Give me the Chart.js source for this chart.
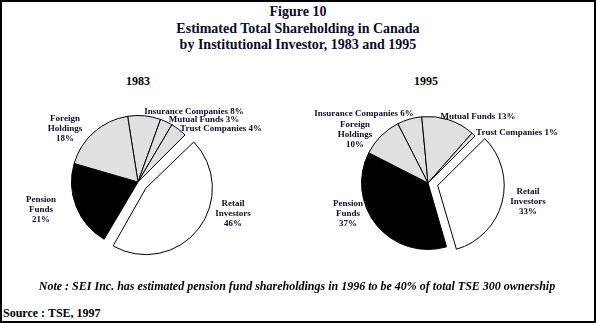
<!DOCTYPE html>
<html>
<head>
<meta charset="utf-8">
<script src="https://cdn.jsdelivr.net/npm/chart.js@4.4.1/dist/chart.umd.min.js"></script>
<style>
  html, body { margin: 0; padding: 0; background: #fff; }
  #fig { position: relative; width: 596px; height: 323px; overflow: hidden; font-family: "Liberation Serif", "Times New Roman", serif; color: #000; }
  #frame { position: absolute; left: 0; top: 0; width: 592px; height: 319px; border: 2px solid #000; }
  .t { position: absolute; white-space: nowrap; font-weight: bold; line-height: 1; transform: translate(-50%, -50%); }
  .title { font-size: 14px; left: 298px; color: #0b0b2a; }
  .year { font-size: 12px; }
  canvas { position: absolute; }
</style>
</head>
<body>
<div id="fig">
  <div id="frame"></div>
  <div class="t title" style="top:12px">Figure 10</div>
  <div class="t title" style="top:29px">Estimated Total Shareholding in Canada</div>
  <div class="t title" style="top:45px">by Institutional Investor, 1983 and 1995</div>
  <div class="t year" style="left:138px; top:81px">1983</div>
  <div class="t year" style="left:426px; top:81px">1995</div>
  <canvas id="pie1983" width="298" height="190" style="left:0; top:90px"></canvas>
  <canvas id="pie1995" width="298" height="190" style="left:298px; top:90px"></canvas>
  <div class="t" style="left:297px; top:286px; font-size:12px; font-style:italic">Note : SEI Inc. has estimated pension fund shareholdings in 1996 to be 40% of total TSE 300 ownership</div>
  <div class="t" style="left:3px; top:313px; font-size:12px; transform: translate(0, -50%)">Source : TSE, 1997</div>
</div>
<script>
// categories in clockwise order from the first slice
const categories = ['Insurance Companies', 'Mutual Funds', 'Trust Companies', 'Retail Investors', 'Pension Funds', 'Foreign Holdings'];
const share1983 = [8, 3, 4, 46, 21, 18];
const share1995 = [6, 13, 1, 33, 37, 10];
const sliceColors = ['#e0e0e0', '#e0e0e0', '#e0e0e0', '#ffffff', '#000000', '#e0e0e0'];
const sliceOffsets = [0, 0, 0, 40, 0, 0];

// label placement relative to pie centre (px); wrap = one word per line
const labels1983 = [
  { dx: 56, dy: -70, wrap: false },
  { dx: 66, dy: -62, wrap: false },
  { dx: 83, dy: -53, wrap: false },
  { dx: 95, dy: 22, wrap: true },
  { dx: -97, dy: 18, wrap: true },
  { dx: -73, dy: -63, wrap: true }
];
const labels1995 = [
  { dx: -64, dy: -69, wrap: false },
  { dx: 50, dy: -66, wrap: false },
  { dx: 89, dy: -50, wrap: false },
  { dx: 100, dy: 9, wrap: true },
  { dx: -80, dy: 21, wrap: true },
  { dx: -73, dy: -58, wrap: true }
];

// Chart.js grows an offset arc's radius; keep the exploded slice the same size as the rest
const explodeFix = {
  id: 'explodeFix',
  beforeDatasetDraw(chart) {
    chart.getDatasetMeta(0).data.forEach(arc => {
      const off = (arc.options.offset || 0) / 4;
      if (!off) return;
      const fix = 1 - Math.sin(Math.min(Math.PI, arc.circumference));
      arc._origR = arc.outerRadius;
      arc.outerRadius -= off * fix;
    });
  },
  afterDatasetDraw(chart) {
    chart.getDatasetMeta(0).data.forEach(arc => {
      if (arc._origR !== undefined) {
        arc.outerRadius = arc._origR;
        delete arc._origR;
      }
    });
  }
};

const pieLabelPlugin = {
  id: 'pieLabels',
  afterDatasetsDraw(chart, args, opts) {
    const ctx = chart.ctx;
    const meta = chart.getDatasetMeta(0);
    const values = chart.data.datasets[0].data;
    ctx.save();
    ctx.font = 'bold 9px "Liberation Serif", serif';
    ctx.fillStyle = '#0b0b2a';
    ctx.textAlign = 'center';
    ctx.textBaseline = 'middle';
    meta.data.forEach((arc, i) => {
      const lay = opts.layout[i];
      const name = chart.data.labels[i];
      const lines = lay.wrap ? name.split(' ').concat([values[i] + '%']) : [name + ' ' + values[i] + '%'];
      lines.forEach((line, j) => {
        ctx.fillText(line, arc.x + lay.dx, arc.y + lay.dy + j * 10);
      });
    });
    ctx.restore();
  }
};

function makePie(id, values, rotation, padding, layout) {
  return new Chart(document.getElementById(id), {
    type: 'pie',
    data: {
      labels: categories,
      datasets: [{
        data: values,
        backgroundColor: sliceColors,
        borderColor: '#000000',
        borderWidth: 1,
        offset: sliceOffsets
      }]
    },
    options: {
      responsive: false,
      animation: false,
      rotation: rotation,
      layout: { padding: padding },
      plugins: {
        legend: { display: false },
        tooltip: { enabled: false },
        pieLabels: { layout: layout }
      }
    },
    plugins: [explodeFix, pieLabelPlugin]
  });
}

makePie('pie1983', share1983, -9, { left: 51, right: 73, top: 5, bottom: 11 }, labels1983);
makePie('pie1995', share1995, -27, { left: 43, right: 81, top: 6, bottom: 10 }, labels1995);
</script>
</body>
</html>
